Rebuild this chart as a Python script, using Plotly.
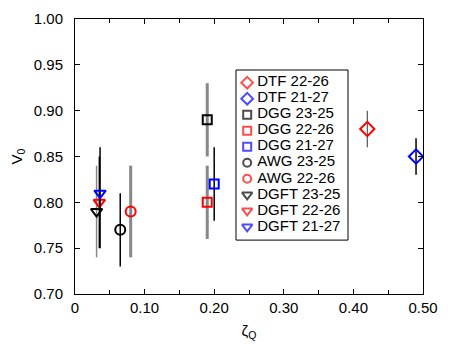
import plotly.graph_objects as go

# data
names = ["DTF 22-26", "DTF 21-27", "DGG 23-25", "DGG 22-26", "DGG 21-27",
         "AWG 23-25", "AWG 22-26", "DGFT 23-25", "DGFT 22-26", "DGFT 21-27"]
zeta_q = [0.42, 0.49, 0.19, 0.19, 0.20, 0.065, 0.08, 0.031, 0.035, 0.036]
v0 = [0.88, 0.85, 0.89, 0.80, 0.82, 0.77, 0.79, 0.79, 0.80, 0.81]
err_plus = [0.02, 0.02, 0.04, 0.04, 0.04, 0.04, 0.05, 0.05, 0.05, 0.05]
err_minus = [0.02, 0.02, 0.04, 0.04, 0.04, 0.04, 0.05, 0.05, 0.05, 0.06]
x_ticks = [0, 0.1, 0.2, 0.3, 0.4, 0.5]
x_labels = ["0", "0.10", "0.20", "0.30", "0.40", "0.50"]
y_ticks = [0.70, 0.75, 0.80, 0.85, 0.90, 0.95, 1.00]
y_labels = ["0.70", "0.75", "0.80", "0.85", "0.90", "0.95", "1.00"]

# styles
colors = ["red", "blue", "black", "red", "blue", "black", "red", "black", "red", "blue"]
symbols = ["diamond-open", "diamond-open", "square-open", "square-open", "square-open",
           "circle-open", "circle-open", "triangle-down-open", "triangle-down-open",
           "triangle-down-open"]
sizes = [11, 11, 9, 9, 9, 10, 10, 10, 10, 10]
legend_sizes = [9, 9, 8, 8, 8, 8, 8, 9, 9, 9]
bar_colors = ["#555555", "black", "#888888", "#888888", "black",
              "black", "#888888", "#888888", "black", "black"]
bar_widths = [1.2, 1.5, 3, 3, 1.5, 1.5, 3, 1.5, 1.5, 1.5]

FONT = "Liberation Sans, Arial, sans-serif"

fig = go.Figure()
for i, name in enumerate(names):
    fig.add_trace(
        go.Scatter(
            x=[zeta_q[i]],
            y=[v0[i]],
            mode="markers",
            name=name,
            marker=dict(symbol=symbols[i], size=sizes[i], color=colors[i],
                        line=dict(width=2, color=colors[i])),
            error_y=dict(type="data", symmetric=False, array=[err_plus[i]],
                         arrayminus=[err_minus[i]], color=bar_colors[i],
                         thickness=bar_widths[i], width=0),
            hovertemplate=f"{name}<br>ζ<sub>Q</sub>=%{{x}}<br>V<sub>0</sub>=%{{y}}<extra></extra>",
        )
    )

# boxed legend with tight rows, drawn on its own small axes (row index = position)
rows = list(range(len(names) - 1, -1, -1))
fig.add_trace(
    go.Scatter(
        x=[0.1] * len(names), y=rows, mode="markers",
        marker=dict(symbol=symbols, size=legend_sizes, color=colors,
                    line=dict(width=2, color=colors)),
        xaxis="x3", yaxis="y3", hoverinfo="skip",
    )
)
fig.add_trace(
    go.Scatter(
        x=[0.19] * len(names), y=rows, mode="text", text=names,
        textposition="middle right",
        textfont=dict(family=FONT, size=15, color="black"),
        xaxis="x3", yaxis="y3", hoverinfo="skip", cliponaxis=False,
    )
)
fig.add_shape(type="rect", xref="x3 domain", yref="y3 domain", x0=0, x1=1, y0=0, y1=1,
              line=dict(color="black", width=1))

axis_common = dict(
    showline=True, linecolor="black", linewidth=1, mirror="allticks",
    ticks="inside", ticklen=5, tickcolor="black", showgrid=False, zeroline=False,
    tickfont=dict(family=FONT, size=15, color="black"), automargin=False,
)

fig.update_layout(
    width=463,
    height=354,
    margin=dict(l=67, r=48, t=11, b=68, autoexpand=False),
    plot_bgcolor="white",
    paper_bgcolor="white",
    font=dict(family=FONT, size=15, color="black"),
    showlegend=False,
    xaxis=dict(
        range=[0, 0.5], tickvals=x_ticks, ticktext=x_labels,
        minor=dict(dtick=0.05, ticks="inside", ticklen=4, tickcolor="black"),
        title=dict(text="ζ<sub>Q</sub>", font=dict(family=FONT, size=15), standoff=10),
        **axis_common,
    ),
    yaxis=dict(
        range=[0.7, 1.0], tickvals=y_ticks, ticktext=y_labels, ticklabelstandoff=8,
        title=dict(text="V<sub>0</sub>", font=dict(family=FONT, size=15), standoff=12),
        **axis_common,
    ),
    xaxis3=dict(domain=[0.4626, 0.7845], range=[0, 1], visible=False, fixedrange=True),
    yaxis3=dict(domain=[0.196, 0.8145], range=[-0.83, 9.79], visible=False, fixedrange=True),
)

fig.write_html("out.html")
